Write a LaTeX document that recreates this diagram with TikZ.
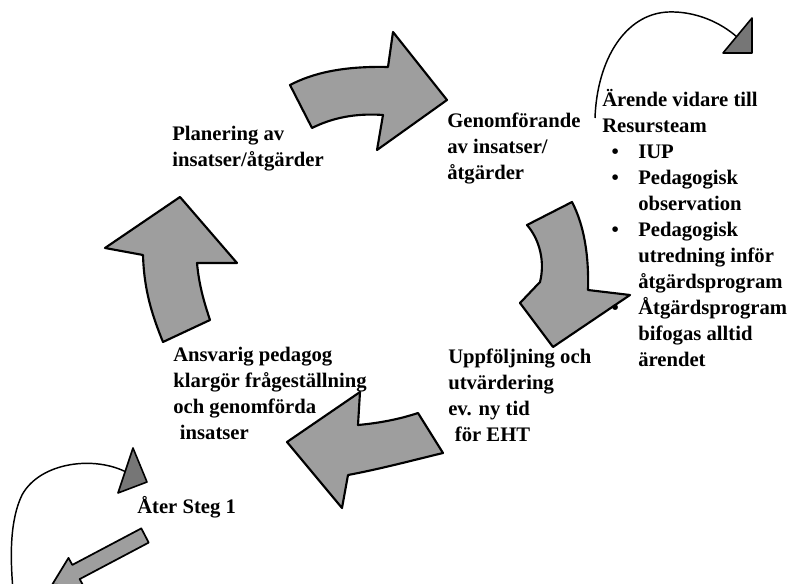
\documentclass[tikz,border=0pt]{standalone}
\usepackage{fontspec}
\setmainfont{Liberation Serif}
\definecolor{arrowgray}{RGB}{158,158,158}
\definecolor{headgray}{RGB}{118,118,118}
\newcommand{\lbullet}{\makebox[27pt][l]{\hspace{7pt}•}}
\newcommand{\lindent}{\hspace*{27pt}}
\tikzset{
  bigarrow/.style={draw=black, line width=1.6pt, line join=round, fill=arrowgray},
  headtri/.style={draw=black, line width=1.2pt, line join=round, fill=headgray},
  thinarc/.style={draw=black, line width=1.1pt},
  lbl/.style={anchor=north west, inner sep=0pt, align=left,
              font=\fontsize{15.5}{19.5}\selectfont\bfseries},
}
\begin{document}
\begin{tikzpicture}[x=0.75pt,y=-0.75pt]
\useasboundingbox (0,0) rectangle (788,584);
\clip (0,0) rectangle (788,584);

% top arrow (right)
\draw[bigarrow] (290,85) .. controls (313,73) and (343,66) .. (388,67)
  -- (393,32) -- (447,100) -- (377,150) -- (383,115)
  .. controls (355,113) and (332,118) .. (312,128) -- cycle;

% right arrow (down)
\draw[bigarrow] (527,225) -- (572,202)
  .. controls (584,225) and (589,255) .. (588,290)
  -- (630,295) -- (553,347) -- (520,303) -- (540,282)
  .. controls (545,262) and (540,240) .. cycle;

% bottom arrow (left)
\draw[bigarrow] (360,392) -- (358,425)
  .. controls (380,423) and (400,419) .. (418,413)
  -- (443,453)
  .. controls (410,461) and (380,469) .. (348,475)
  -- (342,508) -- (287,442) -- cycle;

% left arrow (up)
\draw[bigarrow] (180,197) -- (237,263) -- (197,263)
  .. controls (199,285) and (204,302) .. (210,320)
  -- (163,342)
  .. controls (152,315) and (144,290) .. (143,255)
  -- (105,248) -- cycle;

% top-right small curved arrow
\draw[thinarc] (595,118) .. controls (597,60) and (625,14) .. (668,12)
  .. controls (695,11) and (720,22) .. (737,37);
\draw[headtri] (752,18) -- (752,53) -- (723,53) -- cycle;

% bottom-left small curved arrow
\draw[thinarc] (128,473) .. controls (95,455) and (40,462) .. (22,495)
  .. controls (10,520) and (10,555) .. (13,590);
\draw[headtri] (133,448) -- (147,482) -- (118,493) -- cycle;

% straight block arrow
\draw[bigarrow, line width=1.3pt] (141.3,528.4) -- (72.3,564.9) -- (68.5,557.9)
  -- (52.2,584.6) -- (83.5,586.1) -- (79.7,579.1) -- (148.7,542.6) -- cycle;

% texts
\node[lbl] (plan) at (172,122) {\strut Planering av\\insatser/åtgärder};
\node[lbl] (genom) at (447,109) {\strut Genomförande\\av insatser/\\åtgärder};
\node[lbl] (arende) at (602,88) {\strut Ärende vidare till\\Resursteam\\
  \lbullet IUP\\\lbullet Pedagogisk\\\lindent observation\\
  \lbullet Pedagogisk\\\lindent utredning inför\\\lindent åtgärdsprogram\\
  \lbullet Åtgärdsprogram\\\lindent bifogas alltid\\\lindent ärendet};
\node[lbl] (ansv) at (173,343) {\strut Ansvarig pedagog\\klargör frågeställning\\och genomförda\\\hspace*{5pt}insatser};
\node[lbl] (uppf) at (448,345) {\strut Uppföljning och\\utvärdering\\ev. ny tid\\\hspace*{5pt}för EHT};
\node[lbl] (ater) at (137,495) {\strut Åter Steg 1};
\end{tikzpicture}
\end{document}
